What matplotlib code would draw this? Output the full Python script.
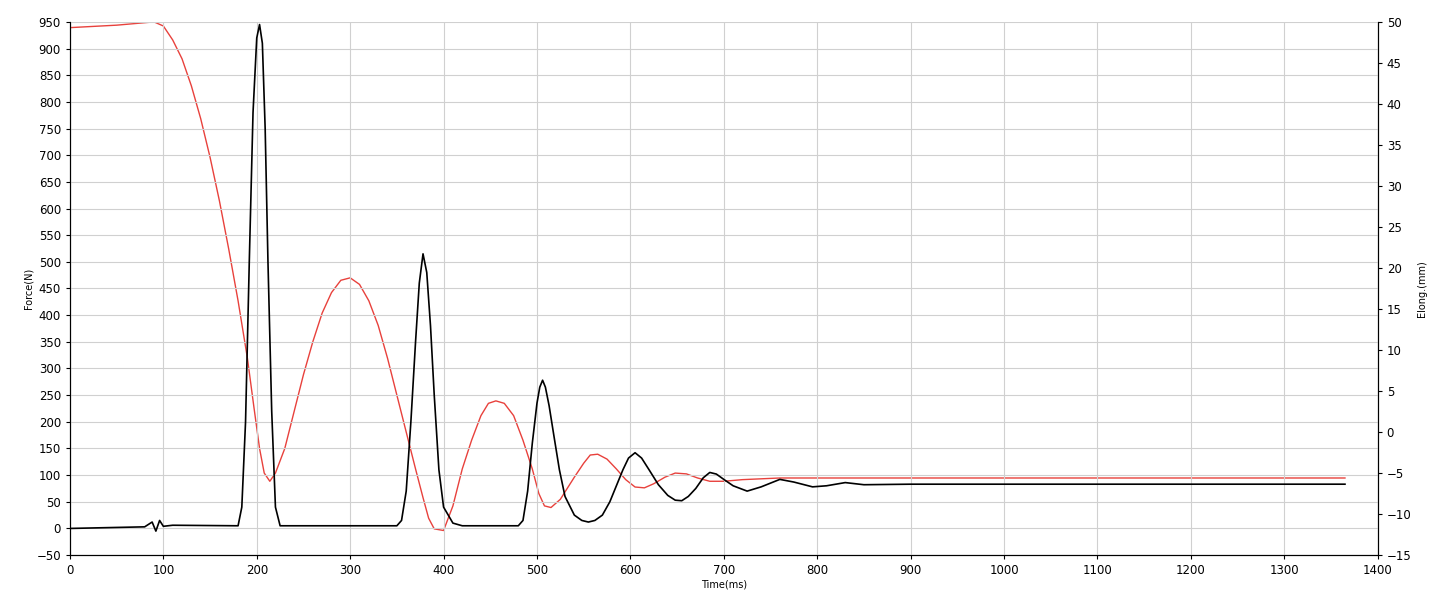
import matplotlib
matplotlib.use("Agg")
import matplotlib.pyplot as plt

force_t = [0,80,88,92,96,100,110,180,184,188,192,196,200,203,206,209,212,216,220,225,350,355,360,365,370,374,378,382,386,390,395,400,410,420,480,485,490,495,500,503,506,509,513,518,524,530,540,548,555,562,570,578,585,592,598,605,612,620,630,640,648,655,662,670,678,685,692,700,710,725,740,760,775,795,810,830,850,900,1000,1100,1200,1365]
force_v = [0,3,12,-5,15,4,6,5,40,200,500,780,920,945,910,750,500,220,40,5,5,15,70,200,350,460,515,480,380,250,110,40,10,5,5,15,70,160,235,265,278,265,230,175,110,60,25,15,12,15,25,50,80,110,132,142,132,110,82,62,53,52,60,75,95,105,102,92,80,70,78,92,87,78,80,86,82,83,83,83,83,83]

elong_t = [0,50,80,90,100,110,120,130,140,150,160,170,180,190,197,203,208,214,220,230,240,250,260,270,280,290,300,310,320,330,340,350,360,370,378,384,390,400,410,420,430,440,448,456,465,475,485,495,502,508,515,525,540,550,557,565,575,585,595,605,615,625,637,648,660,672,685,700,720,760,800,900,1000,1200,1365]
elong_v = [49.3,49.6,49.9,50,49.5,47.8,45.5,42.2,38.2,33.5,28.2,22.3,16,9,3,-2,-5,-6,-5,-2,2.5,7,11,14.5,17,18.5,18.8,18,16,13,9,4.5,0,-4.5,-8,-10.5,-11.8,-12,-9,-4.5,-1,2,3.5,3.8,3.5,2,-1,-4.5,-7.5,-9.0,-9.2,-8.2,-5.5,-3.8,-2.8,-2.7,-3.3,-4.5,-5.8,-6.7,-6.8,-6.3,-5.5,-5.0,-5.1,-5.6,-6.0,-6.0,-5.8,-5.6,-5.6,-5.6,-5.6,-5.6,-5.6]

fig = plt.figure(figsize=(14.45, 6.08), dpi=100)
ax = fig.add_axes([0.0484, 0.087, 0.905, 0.877])
ax2 = ax.twinx()
ax.plot(force_t, force_v, color="black", lw=1.2, zorder=3)
ax2.plot(elong_t, elong_v, color="#e8413c", lw=1.0)
ax.set_zorder(ax2.get_zorder() + 1)
ax.patch.set_visible(False)

ax.set_xlim(0, 1400)
ax.set_ylim(-50, 950)
ax2.set_ylim(-15, 50)
ax.set_xticks(range(0, 1401, 100))
ax.set_yticks(range(-50, 951, 50))
ax2.set_yticks(range(-15, 51, 5))
ax.grid(True, color="#d0d0d0", lw=0.8)
for a in (ax, ax2):
    a.tick_params(labelsize=8.5, length=3)
    a.spines["top"].set_visible(False)
ax.set_xlabel("Time(ms)", fontsize=7, labelpad=2)
ax.set_ylabel("Force(N)", fontsize=7, labelpad=2)
ax2.set_ylabel("Elong.(mm)", fontsize=7, labelpad=4)
fig.savefig("out.png", dpi=100)
